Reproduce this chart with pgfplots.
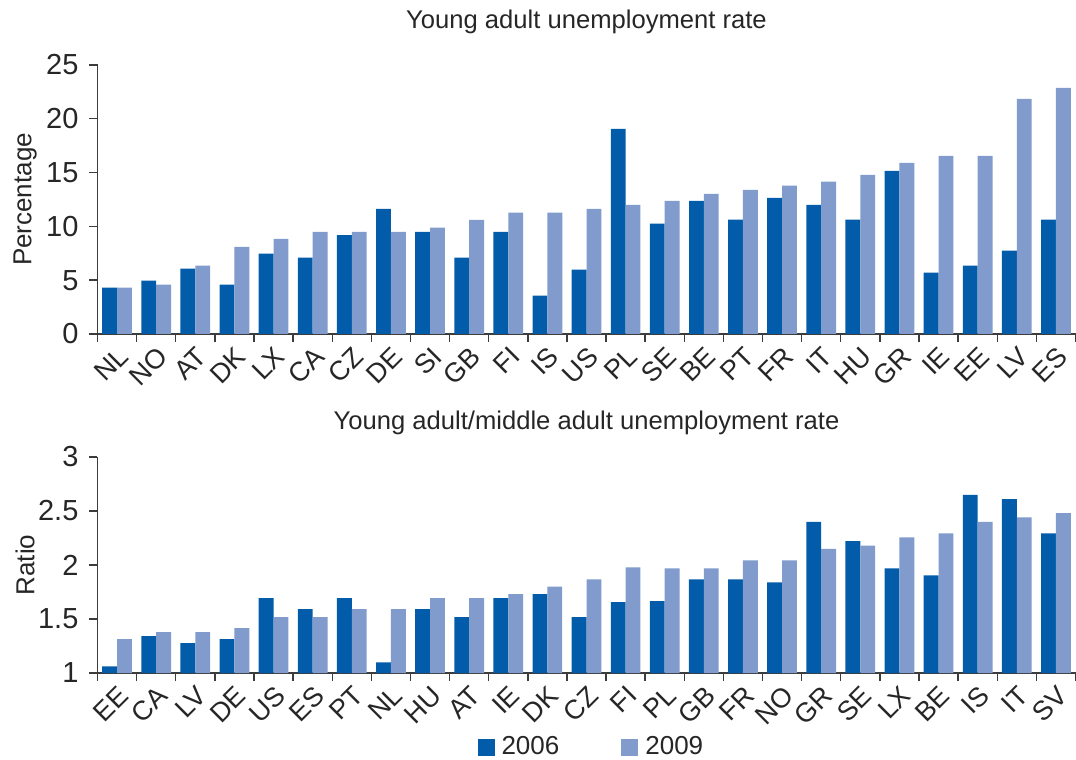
\documentclass[border=0pt]{standalone}
\usepackage{fontspec}
\setmainfont{Liberation Sans}
\usepackage{pgfplots}
\pgfplotsset{compat=1.18}

\definecolor{yrA}{RGB}{2,92,170}
\definecolor{yrB}{RGB}{128,155,204}
\definecolor{axgray}{RGB}{60,60,60}

% young adult unemployment rate (%)
\pgfplotstableread{
idx y2006 y2009
0  4.3  4.3
1  4.95 4.6
2  6.07 6.35
3  4.6  8.1
4  7.46 8.85
5  7.09 9.5
6  9.2  9.5
7  11.64 9.5
8  9.5  9.88
9  7.09 10.6
10 9.5  11.27
11 3.56 11.27
12 5.98 11.64
13 19.07 12.0
14 10.25 12.38
15 12.38 13.03
16 10.62 13.4
17 12.66 13.78
18 12.0 14.15
19 10.62 14.8
20 15.17 15.91
21 5.7  16.56
22 6.35 16.56
23 7.74 21.86
24 10.62 22.88
}\toptable

% young adult / middle adult ratio
\pgfplotstableread{
idx y2006 y2009
0  1.062 1.313
1  1.341 1.378
2  1.276 1.378
3  1.313 1.415
4  1.693 1.517
5  1.591 1.517
6  1.693 1.591
7  1.099 1.591
8  1.591 1.693
9  1.517 1.693
10 1.693 1.73
11 1.73  1.80
12 1.517 1.867
13 1.656 1.978
14 1.666 1.969
15 1.867 1.969
16 1.867 2.043
17 1.839 2.043
18 2.40  2.15
19 2.22  2.18
20 1.969 2.257
21 1.904 2.294
22 2.65  2.40
23 2.61  2.44
24 2.294 2.48
}\bottable

\pgfplotsset{
  countrybars/.style={
    scale only axis, width=489pt,
    xmin=-0.5, xmax=24.5,
    ybar=0pt, bar width=0.38,
    axis x line*=bottom, axis y line*=left,
    axis line style={axgray, line width=0.8pt},
    xtick={0,...,24},
    minor xtick={-0.5,0.5,...,24.5},
    major x tick style={draw=none},
    minor x tick style={axgray, line width=0.7pt},
    y tick style={axgray, line width=0.7pt},
    tick align=outside,
    major tick length=4pt, minor tick length=4pt,
    /pgf/number format/assume math mode=true,
    yticklabel style={font=\fontsize{14.5}{16}\selectfont, text=black!85, xshift=-2pt},
    xticklabel style={font=\fontsize{13.5}{15}\selectfont, text=black!85,
      rotate=45, anchor=north east, inner sep=1pt},
    title style={font=\fontsize{12.8}{15}\selectfont, text=black!85},
    every axis y label/.style={at={(axis description cs:-0.074,0.5)}, rotate=90,
      anchor=center, font=\fontsize{13}{15}\selectfont, text=black!85},
  },
}

\begin{document}
\begin{tikzpicture}
\begin{axis}[
    countrybars,
    height=134.5pt,
    ymin=0, ymax=25,
    ytick={0,5,10,15,20,25},
    xticklabels={NL,NO,AT,DK,LX,CA,CZ,DE,SI,GB,FI,IS,US,PL,SE,BE,PT,FR,IT,HU,GR,IE,EE,LV,ES},
    title={Young adult unemployment rate},
    title style={at={(0.5,1)}, anchor=center, yshift=15.5pt},
    ylabel={Percentage},
]
\addplot[fill=yrA, draw=none] table[x=idx, y=y2006] {\toptable};
\addplot[fill=yrB, draw=none] table[x=idx, y=y2009] {\toptable};
\end{axis}

\begin{axis}[
    countrybars,
    at={(0,-169.5pt)},
    height=108pt,
    ymin=1, ymax=3,
    ytick={1,1.5,2,2.5,3},
    xticklabels={EE,CA,LV,DE,US,ES,PT,NL,HU,AT,IE,DK,CZ,FI,PL,GB,FR,NO,GR,SE,LX,BE,IS,IT,SV},
    title={Young adult/middle adult unemployment rate},
    title style={at={(0.5,1)}, anchor=center, yshift=11pt},
    ylabel={Ratio},
    legend style={at={(0.506,-0.343)}, anchor=center, draw=none, fill=none,
      legend columns=2, font=\fontsize{13}{15}\selectfont, text=black!85,
      /tikz/every even column/.append style={column sep=29pt}},
    legend image code/.code={\fill[#1] (0pt,-4.25pt) rectangle (8.5pt,4.25pt);},
    legend cell align=left,
]
\addplot[fill=yrA, draw=none] table[x=idx, y=y2006] {\bottable};
\addplot[fill=yrB, draw=none] table[x=idx, y=y2009] {\bottable};
\legend{\hspace{1.5pt}2006,\hspace{1.5pt}2009}
\end{axis}

\pgfresetboundingbox
\path (-48.75pt,-213pt) rectangle (489.25pt,167pt);
\end{tikzpicture}
\end{document}
